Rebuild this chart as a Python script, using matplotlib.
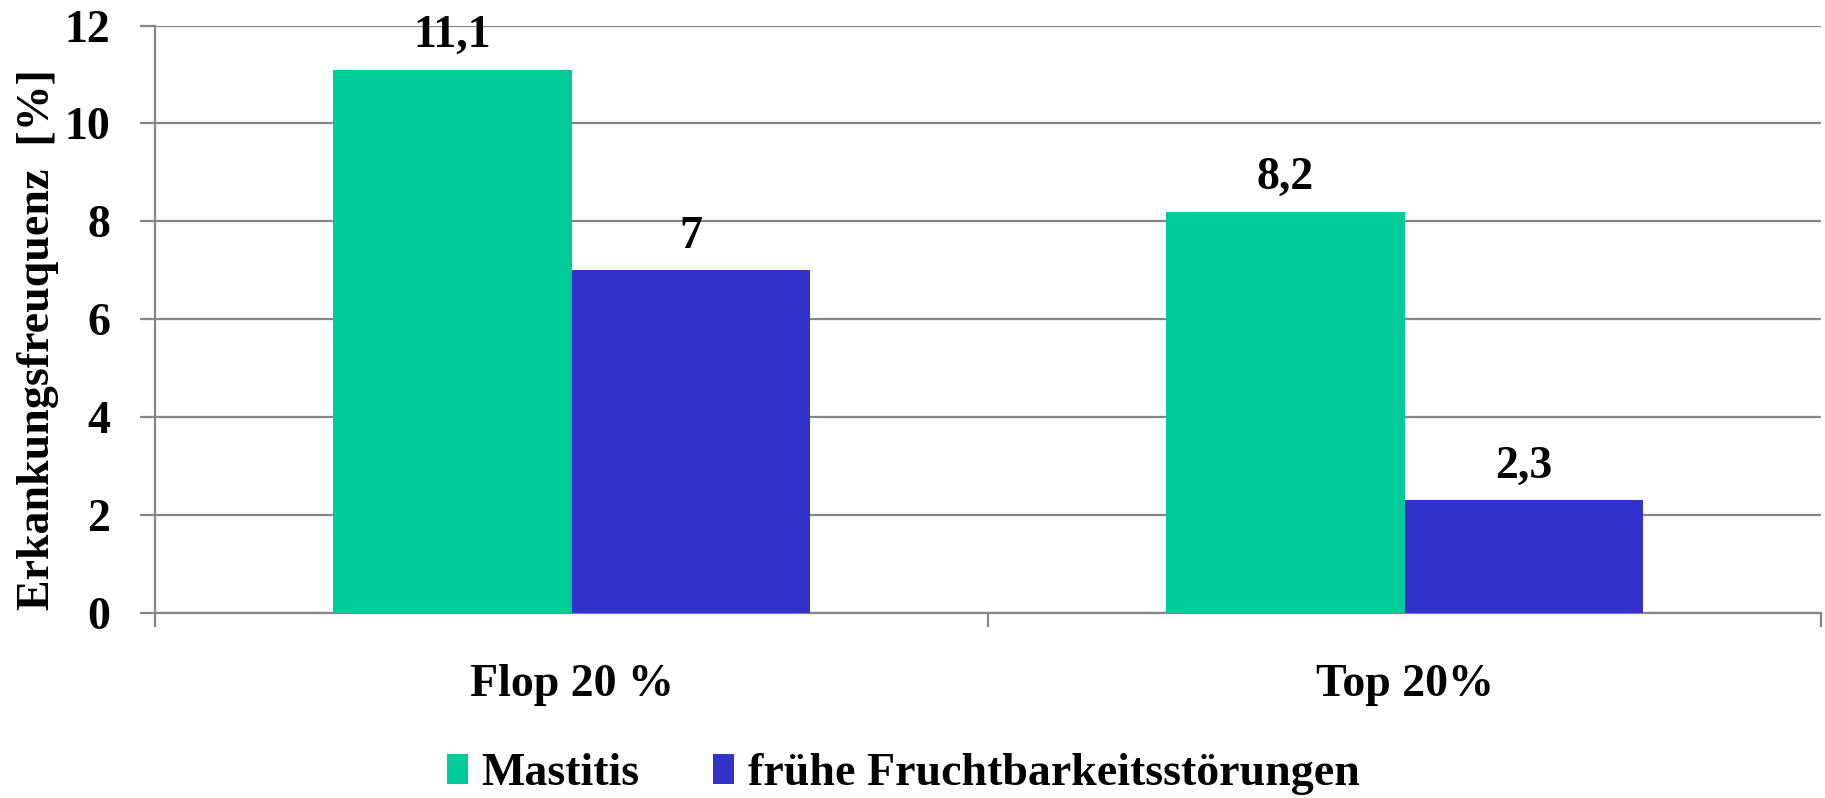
import matplotlib
matplotlib.use("Agg")
import matplotlib.pyplot as plt
import numpy as np

categories = ["Flop 20 %", "Top 20%"]
series_names = ["Mastitis", "frühe Fruchtbarkeitsstörungen"]
mastitis = [11.1, 8.2]
fruchtbarkeit = [7.0, 2.3]
value_labels_m = ["11,1", "8,2"]
value_labels_f = ["7", "2,3"]
yticks = [0, 2, 4, 6, 8, 10, 12]
ylabel = "Erkankungsfreuquenz  [%]"

plt.rcParams['font.family'] = ['Liberation Serif', 'DejaVu Serif']
plt.rcParams['font.weight'] = 'bold'

green = "#00CC99"
blue = "#3333CC"
grid_c = "#868686"

fig = plt.figure(figsize=(18.25, 7.98), dpi=100)
ax = fig.add_axes([0.0849, 0.2318, 0.9131, 0.7362])

x = np.arange(len(categories))
w = 0.286
b1 = ax.bar(x - w/2, mastitis, width=w, color=green, label=series_names[0], zorder=3)
b2 = ax.bar(x + w/2, fruchtbarkeit, width=w, color=blue, label=series_names[1], zorder=3)

fs = 33
for rect, lab in zip(b1, value_labels_m):
    ax.annotate(lab, (rect.get_x() + rect.get_width()/2, rect.get_height()),
                xytext=(0, 9), textcoords="offset points", ha="center", va="bottom",
                fontsize=fs, fontweight="bold", zorder=4)
for rect, lab in zip(b2, value_labels_f):
    ax.annotate(lab, (rect.get_x() + rect.get_width()/2, rect.get_height()),
                xytext=(0, 9), textcoords="offset points", ha="center", va="bottom",
                fontsize=fs, fontweight="bold", zorder=4)

ax.set_xlim(-0.5, 1.5)
ax.set_ylim(0, 12)
ax.set_yticks(yticks)
ax.set_yticklabels([str(t) for t in yticks], fontsize=fs, fontweight="bold")
ax.yaxis.grid(True, color=grid_c, linewidth=1.6, zorder=0)
ax.tick_params(axis="y", length=11, width=1.6, color=grid_c, pad=21)

ax.set_xticks(x)
ax.set_xticklabels(categories, fontsize=fs, fontweight="bold")
ax.tick_params(axis="x", which="major", length=0, pad=37)
ax.set_xticks([-0.5, 0.5, 1.5], minor=True)
ax.tick_params(axis="x", which="minor", length=10, width=1.6, color=grid_c)

for s in ["top", "right"]:
    ax.spines[s].set_visible(False)
for s in ["left", "bottom"]:
    ax.spines[s].set_color(grid_c)
    ax.spines[s].set_linewidth(1.6)

ax.set_ylabel(ylabel, fontsize=fs, fontweight="bold", labelpad=4)
ax.yaxis.label.set_y(0.465)

fig.legend(handles=[b1, b2], labels=series_names, loc="center", bbox_to_anchor=(0.495, 0.03),
           ncol=2, frameon=False, handlelength=0.46, handleheight=0.63,
           handletextpad=0.3, columnspacing=1.6, prop={'weight': 'bold', 'size': fs})

fig.savefig("out.png", dpi=100)
